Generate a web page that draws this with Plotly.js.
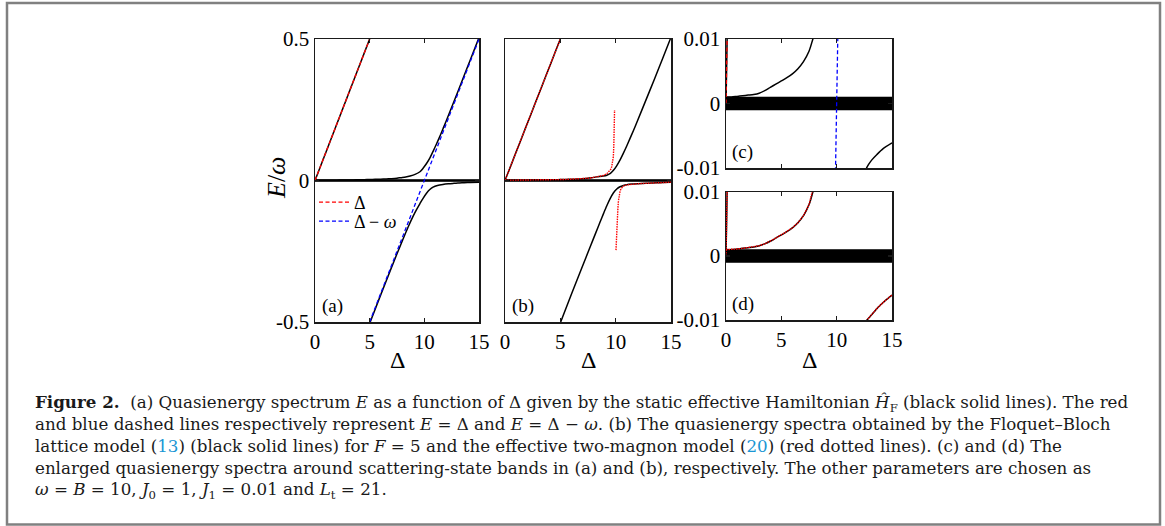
<!DOCTYPE html>
<html>
<head>
<meta charset="utf-8">
<script src="https://cdn.plot.ly/plotly-3.0.1.min.js"></script>
<style>html,body{margin:0;padding:0;background:#fff;}#chart{width:1165px;height:526px;}</style>
</head>
<body>
<div id="chart"></div>
<script>
// ---------- data ----------
// line E = Delta (in units of omega)
const lineDelta = [0, 5];
const lineE = [0, 0.5];
// line E = Delta - omega
const diagDelta = [5, 15];
const diagE = [-0.5, 0.5];
// scattering-state band
const bandDelta = [0, 15];
const bandTop = [0.001, 0.001];
const bandBottom = [-0.001, -0.001];

// panel (a)/(c): static effective Hamiltonian, upper bound-state branch
const aUpperDelta = [0, 0.5, 1, 1.5, 2, 2.5, 3, 3.5, 4, 4.5, 5, 5.5, 6, 6.5, 7, 7.5, 7.85, 8.3, 8.7, 9.15, 9.6, 9.9, 10.2, 10.5, 10.8, 11.1, 11.4, 11.7, 12.0, 12.8, 13.5, 14.2, 15];
const aUpperE = [0.0010, 0.0010, 0.0011, 0.0012, 0.0013, 0.0014, 0.0016, 0.0020, 0.0025, 0.0030, 0.0035, 0.0040, 0.0046, 0.0054, 0.0065, 0.0081, 0.0100, 0.0125, 0.0160, 0.0215, 0.0310, 0.0440, 0.0600, 0.0790, 0.1030, 0.1280, 0.1540, 0.1820, 0.2100, 0.2880, 0.3570, 0.4260, 0.5050];
// panel (a)/(c): lower bound-state branch
const aLowerDelta = [5, 6, 7, 7.5, 8, 8.5, 9, 9.3, 9.6, 9.9, 10.2, 10.5, 10.8, 11.2, 11.7, 12.2, 12.7, 12.9, 13.2, 13.64, 14.2, 15];
const aLowerE = [-0.505, -0.405, -0.307, -0.259, -0.212, -0.166, -0.124, -0.102, -0.0815, -0.062, -0.045, -0.032, -0.0235, -0.0175, -0.0138, -0.0116, -0.0100, -0.0094, -0.0087, -0.0079, -0.0070, -0.0061];

// panel (b)/(d): Floquet-Bloch lattice model (black)
const bUpperDelta = [0, 0.5, 1, 1.5, 2, 2.5, 3, 3.5, 4, 4.5, 5, 5.5, 6, 6.5, 7, 7.5, 7.85, 8.3, 8.88, 9.2, 9.49, 9.8, 10.09, 10.4, 10.69, 11.0, 11.29, 11.6, 11.9, 12.65, 13.5, 14.2, 15];
const bUpperE = [0.0010, 0.0010, 0.0011, 0.0012, 0.0013, 0.0014, 0.0016, 0.0019, 0.0023, 0.0028, 0.0033, 0.0038, 0.0044, 0.0052, 0.0063, 0.0080, 0.0100, 0.0128, 0.0155, 0.0185, 0.0240, 0.0360, 0.0520, 0.0730, 0.0960, 0.1220, 0.1480, 0.1760, 0.2040, 0.2760, 0.3580, 0.4270, 0.5060];
const bLowerDelta = [5.03, 6, 7, 7.7, 8.2, 8.6, 8.9, 9.19, 9.5, 9.79, 10.1, 10.39, 10.7, 11.0, 11.5, 12.0, 12.74, 13.2, 13.64, 14.3, 15];
const bLowerE = [-0.5, -0.402, -0.303, -0.234, -0.185, -0.146, -0.117, -0.090, -0.064, -0.044, -0.030, -0.022, -0.0175, -0.0148, -0.0126, -0.0114, -0.0100, -0.0091, -0.0082, -0.0071, -0.0061];

// panel (b)/(d): effective two-magnon model (red dotted)
const bRedUpperDelta = [0, 0.5, 1, 1.5, 2, 2.5, 3, 3.5, 4, 4.5, 5, 5.5, 6, 6.5, 7, 7.5, 7.85, 8.3, 8.88, 9.2, 9.4, 9.55, 9.64, 9.72, 9.79, 9.83, 9.86, 9.88, 9.9];
const bRedUpperE = [0.0010, 0.0010, 0.0011, 0.0012, 0.0013, 0.0014, 0.0016, 0.0019, 0.0023, 0.0028, 0.0033, 0.0038, 0.0044, 0.0052, 0.0063, 0.0080, 0.0100, 0.0130, 0.0175, 0.0240, 0.0310, 0.0390, 0.0480, 0.0620, 0.0840, 0.1200, 0.1670, 0.2100, 0.2490];
const bRedLowerDelta = [10.03, 10.06, 10.1, 10.15, 10.2, 10.25, 10.32, 10.4, 10.5, 10.7, 11.0, 11.4, 12.0, 12.74, 13.2, 13.64, 14.3, 15];
const bRedLowerE = [-0.246, -0.205, -0.172, -0.140, -0.100, -0.072, -0.050, -0.037, -0.028, -0.020, -0.0155, -0.0130, -0.0114, -0.0100, -0.0091, -0.0082, -0.0071, -0.0061];

// ticks
const xTickVals = [0, 5, 10, 15];
const xTickText = ['0', '5', '10', '15'];
const yMainVals = [-0.5, 0, 0.5];
const yMainText = ['-0.5', '0', '0.5'];
const yZoomVals = [-0.01, 0, 0.01];
const yZoomText = ['-0.01', '0', '0.01'];

// caption lines
const captionLines = [
  '<b>Figure 2.</b>\u00a0\u00a0(a) Quasienergy spectrum <i>E</i> as a function of Δ given by the static effective Hamiltonian <i>Ĥ</i><sub>F</sub> (black solid lines). The red',
  'and blue dashed lines respectively represent <i>E</i> = Δ and <i>E</i> = Δ − <i>ω</i>. (b) The quasienergy spectra obtained by the Floquet–Bloch',
  'lattice model (<span style="color:#1a96d4">13</span>) (black solid lines) for <i>F</i> = 5 and the effective two-magnon model (<span style="color:#1a96d4">20</span>) (red dotted lines). (c) and (d) The',
  'enlarged quasienergy spectra around scattering-state bands in (a) and (b), respectively. The other parameters are chosen as',
  '<i>ω</i> = <i>B</i> = 10, <i>J</i><sub>0</sub> = 1, <i>J</i><sub>1</sub> = 0.01 and <i>L</i><sub>t</sub> = 21.'
];

// ---------- styling ----------
const SERIF = 'Liberation Serif, Times New Roman, serif';
const CAPFONT = 'DejaVu Serif, Liberation Serif, serif';
const BLACK = '#000000';
const RED = '#ff0000';
const BLUE = '#0000ff';

function tr(x, y, xa, ya, color, width, dash, extra) {
  return Object.assign({
    type: 'scatter', mode: 'lines', x: x, y: y, xaxis: xa, yaxis: ya,
    line: {color: color, width: width, dash: dash || 'solid'},
    showlegend: false, hoverinfo: 'skip'
  }, extra || {});
}
function curve(x, y, xa, ya) {
  const t = tr(x, y, xa, ya, BLACK, 1.5);
  t.line.shape = 'spline';
  t.line.smoothing = 0.8;
  return t;
}

function band(xa, ya, w) {
  return [
    tr(bandDelta, bandBottom, xa, ya, BLACK, w),
    tr(bandDelta, bandTop, xa, ya, BLACK, w, 'solid', {fill: 'tonexty', fillcolor: BLACK})
  ];
}

const traces = [];
// (a) and (c): same spectra, different zoom
[['x', 'y', 2], ['x3', 'y3', 0.6]].forEach(function (p, i) {
  const xa = p[0], ya = p[1];
  band(xa, ya, p[2]).forEach(t => traces.push(t));
  traces.push(tr(lineDelta, lineE, xa, ya, BLACK, 1.5));
  traces.push(curve(aUpperDelta, aUpperE, xa, ya));
  traces.push(curve(aLowerDelta, aLowerE, xa, ya));
  traces.push(tr(lineDelta, lineE, xa, ya, RED, 1.3, '4px,2.5px',
    i === 0 ? {name: 'Δ', showlegend: true, legend: 'legend'} : {}));
  traces.push(tr(diagDelta, diagE, xa, ya, BLUE, 1.3, '4px,2.5px',
    i === 0 ? {name: 'Δ − <i>ω</i>', showlegend: true, legend: 'legend2'} : {}));
});
// (b) and (d)
[['x2', 'y2', 2], ['x4', 'y4', 0.6]].forEach(function (p) {
  const xa = p[0], ya = p[1];
  band(xa, ya, p[2]).forEach(t => traces.push(t));
  traces.push(tr(lineDelta, lineE, xa, ya, BLACK, 1.5));
  traces.push(curve(bUpperDelta, bUpperE, xa, ya));
  traces.push(curve(bLowerDelta, bLowerE, xa, ya));
  traces.push(tr(lineDelta, lineE, xa, ya, RED, 1.4, '1.5px,1px'));
  traces.push(tr(bRedUpperDelta, bRedUpperE, xa, ya, RED, 1.4, '1.5px,1px'));
  traces.push(tr(bRedLowerDelta, bRedLowerE, xa, ya, RED, 1.4, '1.5px,1px'));
});

const W = 1165, H = 526;
function dx(a, b) { return [a / W, b / W]; }
function dy(top, bottom) { return [1 - bottom / H, 1 - top / H]; }

function axis(extra) {
  return Object.assign({
    showgrid: false, zeroline: false, showline: true, mirror: 'allticks',
    linecolor: '#1a1a1a', linewidth: 1.5, ticks: 'inside', ticklen: 4,
    tickwidth: 1.2, tickcolor: '#1a1a1a', tickmode: 'array',
    tickfont: {family: SERIF, size: 21, color: '#000'}, fixedrange: true
  }, extra);
}

function legendAt(topPx) {
  return {
    x: 314 / W, y: 1 - topPx / H, xanchor: 'left', yanchor: 'top', traceorder: 'normal',
    bgcolor: 'rgba(0,0,0,0)', borderwidth: 0, tracegroupgap: 0,
    font: {family: SERIF, size: 18, color: '#000'}
  };
}

const annotations = [
  // axis titles
  {text: '<i>E</i>/<i>ω</i>', xref: 'paper', yref: 'paper', x: 276 / W, y: 1 - 178 / H, xanchor: 'center', yanchor: 'middle', textangle: -90,
   showarrow: false, font: {family: SERIF, size: 26, color: '#000'}},
  {text: 'Δ', xref: 'paper', yref: 'paper', x: 397 / W, y: 1 - 360 / H, xanchor: 'center', yanchor: 'middle', showarrow: false, font: {family: SERIF, size: 24, color: '#000'}},
  {text: 'Δ', xref: 'paper', yref: 'paper', x: 588 / W, y: 1 - 360 / H, xanchor: 'center', yanchor: 'middle', showarrow: false, font: {family: SERIF, size: 24, color: '#000'}},
  {text: 'Δ', xref: 'paper', yref: 'paper', x: 809 / W, y: 1 - 360 / H, xanchor: 'center', yanchor: 'middle', showarrow: false, font: {family: SERIF, size: 24, color: '#000'}},
  // panel labels
  {text: '(a)', xref: 'x domain', yref: 'y domain', x: 0.03, y: 0.012, xanchor: 'left', yanchor: 'bottom', showarrow: false, font: {family: SERIF, size: 19, color: '#000'}},
  {text: '(b)', xref: 'x2 domain', yref: 'y2 domain', x: 0.03, y: 0.012, xanchor: 'left', yanchor: 'bottom', showarrow: false, font: {family: SERIF, size: 19, color: '#000'}},
  {text: '(c)', xref: 'x3 domain', yref: 'y3 domain', x: 0.025, y: 0.02, xanchor: 'left', yanchor: 'bottom', showarrow: false, font: {family: SERIF, size: 19, color: '#000'}},
  {text: '(d)', xref: 'x4 domain', yref: 'y4 domain', x: 0.025, y: 0.02, xanchor: 'left', yanchor: 'bottom', showarrow: false, font: {family: SERIF, size: 19, color: '#000'}}
];
const captionTops = [390, 412, 434, 456, 477];
captionLines.forEach(function (t, i) {
  annotations.push({xref: 'paper', yref: 'paper', x: 33 / W, y: 1 - captionTops[i] / H, xanchor: 'left', yanchor: 'top', align: 'left',
    showarrow: false, font: {family: CAPFONT, size: 16.7, color: '#1a1a1a'}, text: t});
});

const layout = {
  width: W, height: H,
  margin: {l: 0, r: 0, t: 0, b: 0, pad: 0},
  paper_bgcolor: '#ffffff', plot_bgcolor: '#ffffff',
  hovermode: false,
  xaxis: axis({domain: dx(315, 479), anchor: 'y', range: [0, 15], tickvals: xTickVals, ticktext: xTickText, ticklabelstandoff: 0}),
  yaxis: axis({domain: dy(39, 322), anchor: 'x', range: [-0.5, 0.5], tickvals: yMainVals, ticktext: yMainText, ticklabelstandoff: 0}),
  xaxis2: axis({domain: dx(505, 671), anchor: 'y2', range: [0, 15], tickvals: xTickVals, ticktext: xTickText, ticklabelstandoff: 0}),
  yaxis2: axis({domain: dy(39, 322), anchor: 'x2', range: [-0.5, 0.5], tickvals: yMainVals, ticktext: yMainText, showticklabels: false}),
  xaxis3: axis({domain: dx(726, 892), anchor: 'y3', range: [0, 15], tickvals: xTickVals, ticktext: xTickText, showticklabels: false}),
  yaxis3: axis({domain: dy(39, 168), anchor: 'x3', range: [-0.01, 0.01], tickvals: yZoomVals, ticktext: yZoomText, ticklabelstandoff: 0}),
  xaxis4: axis({domain: dx(726, 892), anchor: 'y4', range: [0, 15], tickvals: xTickVals, ticktext: xTickText, ticklabelstandoff: 0}),
  yaxis4: axis({domain: dy(192, 320), anchor: 'x4', range: [-0.01, 0.01], tickvals: yZoomVals, ticktext: yZoomText, ticklabelstandoff: 0}),
  legend: legendAt(184),
  legend2: legendAt(203),
  shapes: [{
    type: 'rect', xref: 'paper', yref: 'paper',
    x0: 7 / W, x1: 1160 / W, y0: 1 - 524.5 / H, y1: 1 - 3 / H,
    line: {color: '#808080', width: 2.5}, fillcolor: 'rgba(0,0,0,0)', layer: 'above'
  }],
  annotations: annotations
};

Plotly.newPlot('chart', traces, layout, {displayModeBar: false, staticPlot: true}).then(function (gd) {
  // drop empty placeholder text nodes (e.g. unused axis titles)
  gd.querySelectorAll('text').forEach(function (t) {
    if (!t.textContent.trim()) t.remove();
  });
});
</script>
</body>
</html>
